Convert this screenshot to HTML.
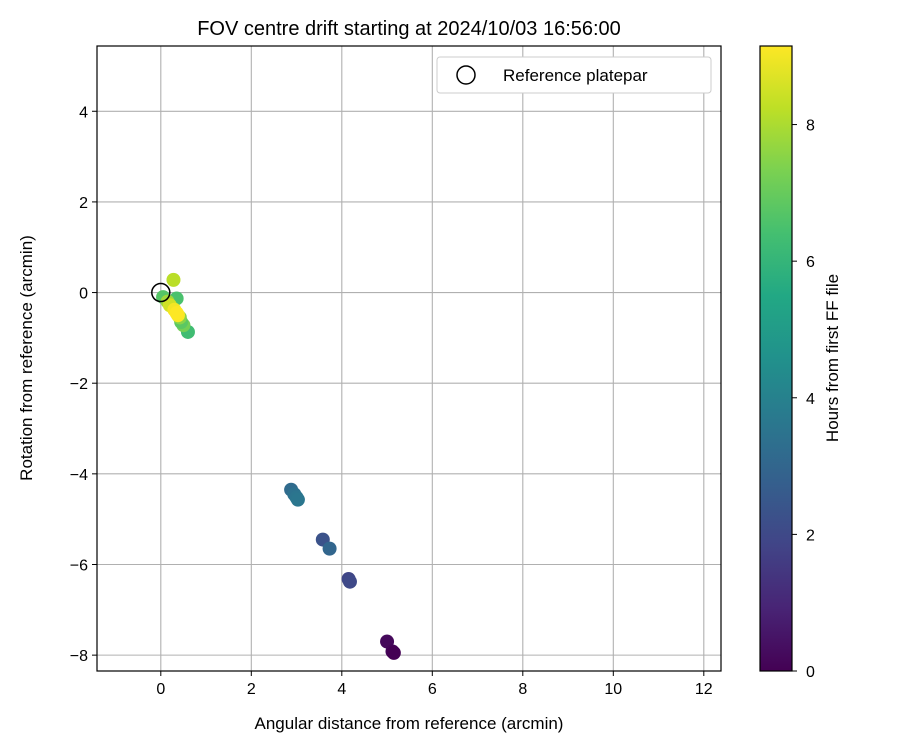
<!DOCTYPE html>
<html><head><meta charset="utf-8"><style>
body{margin:0;background:#fff;}
svg{display:block;font-family:"Liberation Sans","DejaVu Sans",sans-serif;}
</style></head><body>
<svg id="chart" width="900" height="750" viewBox="0 0 900 750">
<defs>
<linearGradient id="viridis" x1="0" y1="1" x2="0" y2="0">
<stop offset="0" stop-color="#440154"/><stop offset="0.1" stop-color="#482475"/><stop offset="0.2" stop-color="#414487"/><stop offset="0.3" stop-color="#355f8d"/><stop offset="0.4" stop-color="#2a788e"/><stop offset="0.5" stop-color="#21918c"/><stop offset="0.6" stop-color="#22a884"/><stop offset="0.7" stop-color="#44bf70"/><stop offset="0.8" stop-color="#7ad151"/><stop offset="0.9" stop-color="#bddf26"/><stop offset="1" stop-color="#fde725"/>
</linearGradient>
<clipPath id="plotclip"><rect x="97" y="46" width="624" height="625"/></clipPath>
</defs>
<text x="409" y="35" text-anchor="middle" font-size="20">FOV centre drift starting at 2024/10/03 16:56:00</text>
<g id="grid"></g>
<g id="points" clip-path="url(#plotclip)"></g>
<rect x="97" y="46" width="624" height="625" fill="none" stroke="#000" stroke-width="1.2"/>
<g id="ticks"></g>
<text x="409" y="729" text-anchor="middle" font-size="17">Angular distance from reference (arcmin)</text>
<text transform="translate(32,358) rotate(-90)" text-anchor="middle" font-size="17">Rotation from reference (arcmin)</text>
<g>
<rect x="437" y="57" width="274" height="36" rx="3" fill="#fff" stroke="#ccc"/>
<circle cx="466" cy="75" r="9" fill="none" stroke="#000" stroke-width="1.5"/>
<text x="503" y="81" font-size="17">Reference platepar</text>
</g>
<rect x="760" y="46" width="32" height="625" fill="url(#viridis)" stroke="#000" stroke-width="1.2"/>
<g id="cbticks"></g>
<text transform="translate(838,358) rotate(-90)" text-anchor="middle" font-size="17">Hours from first FF file</text>
</svg>
<script>
const xTicks=[0,2,4,6,8,10,12];
const yTicks=[-8,-6,-4,-2,0,2,4];
const cbTicks=[0,2,4,6,8];
const xs=[5.0,5.12,5.15,4.15,4.18,3.58,3.73,2.88,2.95,3.0,3.03,0.05,0.35,0.6,0.5,0.45,0.42,0.28,0.15,0.2,0.3,0.38,0.35];
const ys=[-7.7,-7.92,-7.95,-6.32,-6.38,-5.45,-5.65,-4.35,-4.45,-4.52,-4.57,-0.1,-0.13,-0.87,-0.72,-0.65,-0.55,0.28,-0.2,-0.28,-0.38,-0.5,-0.45];
const hours=[0.2,0.1,0.0,1.9,2.0,2.3,3.0,3.2,3.4,3.5,3.6,6.7,6.5,6.3,7.2,6.8,7.5,8.2,7.8,8.5,9.0,9.1,9.15];
const xMin=-1.41,xMax=12.38,yMin=-8.35,yMax=5.44,hMax=9.15;
const L=97,R=721,T=46,B=671;
const sx=v=>L+(v-xMin)/(xMax-xMin)*(R-L);
const sy=v=>B-(v-yMin)/(yMax-yMin)*(B-T);
const sc=v=>671-v/hMax*625;
const fmt=v=>String(v).replace('-','\u2212');
const V=[[68,1,84],[72,36,117],[65,68,135],[53,95,141],[42,120,142],[33,145,140],[34,168,132],[68,191,112],[122,209,81],[189,223,38],[253,231,37]];
function vir(t){t=Math.max(0,Math.min(1,t))*10;const i=Math.min(9,Math.floor(t)),f=t-i;const c=V[i].map((a,k)=>Math.round(a+(V[i+1][k]-a)*f));return `rgb(${c})`;}
const NS="http://www.w3.org/2000/svg";
function mk(tag,attrs,parent){const e=document.createElementNS(NS,tag);for(const k in attrs)e.setAttribute(k,attrs[k]);document.getElementById(parent).appendChild(e);return e;}
xTicks.forEach(t=>{const x=sx(t);
const g=mk('line',{x1:x,x2:x,y1:T,y2:B,stroke:'#b0b0b0','stroke-width':1.1},'grid');


const tk=mk('line',{x1:x,x2:x,y1:B,y2:B+5,stroke:'#000'},'ticks');


const tl=mk('text',{x:x,y:B+23,'text-anchor':'middle','font-size':16},'ticks');tl.textContent=fmt(t);

});
yTicks.forEach(t=>{const y=sy(t);
const g=mk('line',{x1:L,x2:R,y1:y,y2:y,stroke:'#b0b0b0','stroke-width':1.1},'grid');


const tk=mk('line',{x1:L-5,x2:L,y1:y,y2:y,stroke:'#000'},'ticks');


const tl=mk('text',{x:L-9,y:y+6,'text-anchor':'end','font-size':16},'ticks');tl.textContent=fmt(t);

});
cbTicks.forEach(t=>{const y=sc(t);
const tk=mk('line',{x1:792,x2:797,y1:y,y2:y,stroke:'#000'},'cbticks');


const tl=mk('text',{x:806,y:y+6,'font-size':16},'cbticks');tl.textContent=fmt(t);

});
xs.forEach((x,i)=>{const c=mk('circle',{cx:sx(x),cy:sy(ys[i]),r:7,fill:vir(hours[i]/hMax)},'points');

});
const ref=mk('circle',{cx:sx(0),cy:sy(0),r:9,fill:'none',stroke:'#000','stroke-width':1.5},'points');


</script>
</body></html>
